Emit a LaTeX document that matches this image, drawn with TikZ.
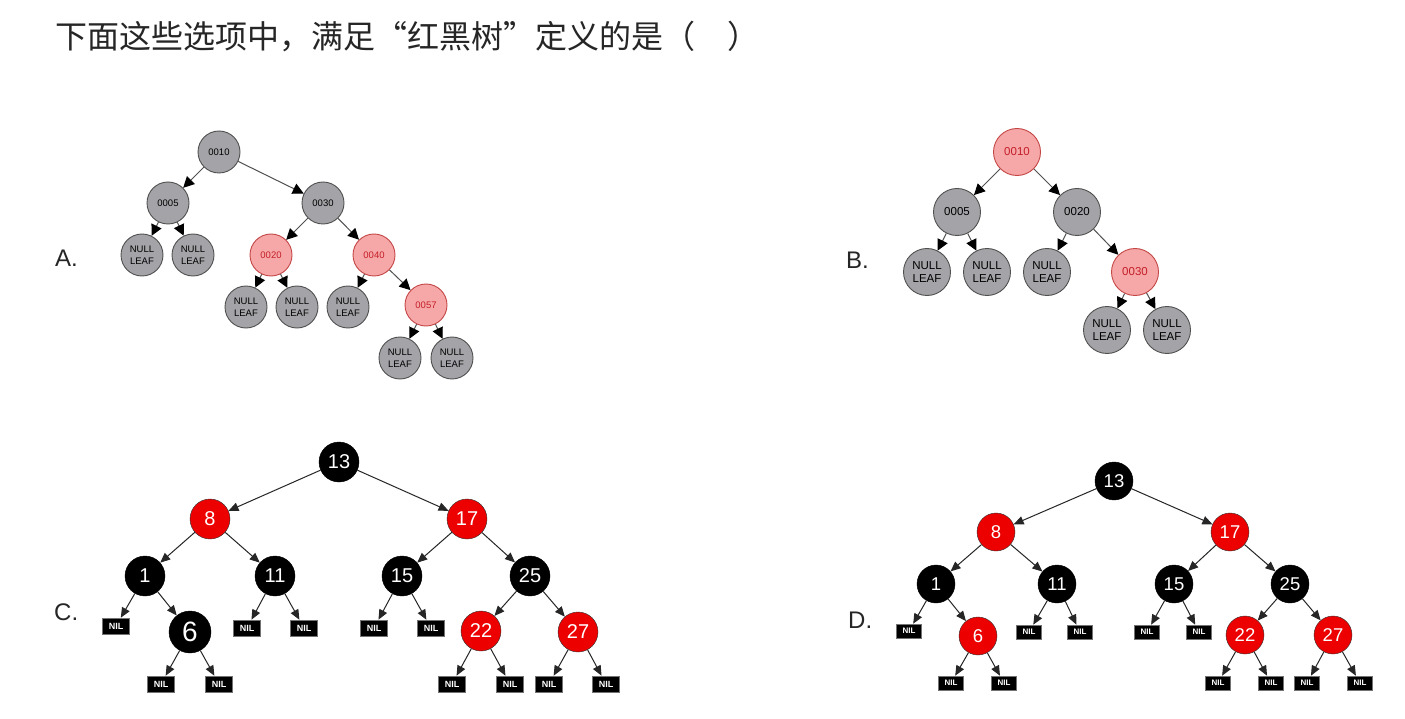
\documentclass[tikz,border=0pt]{standalone}
\usepackage{fontspec}
\setmainfont{Liberation Sans}
\newfontfamily\cjk{Noto Sans CJK SC}
\usetikzlibrary{arrows.meta}
\definecolor{ngray}{RGB}{164,164,168}
\definecolor{nborder}{RGB}{80,80,80}
\definecolor{npink}{RGB}{246,168,168}
\definecolor{pborder}{RGB}{196,70,70}
\definecolor{ptext}{RGB}{196,30,40}
\definecolor{nred}{RGB}{236,0,0}
\tikzset{
  gnode/.style={circle,inner sep=0pt,minimum size=42pt,fill=ngray,draw=nborder,line width=0.9pt,align=center,font=\fontsize{9.5}{12}\selectfont},
  pnode/.style={gnode,fill=npink,draw=pborder,text=ptext},
  gnodeB/.style={gnode,minimum size=47pt,font=\fontsize{11.5}{13.5}\selectfont},
  pnodeB/.style={gnodeB,fill=npink,draw=pborder,text=ptext},
  aedge/.style={draw=nborder,line width=1pt,-{Triangle[length=11pt,width=11pt,fill=black,color=black]}},
  bnode/.style={circle,inner sep=0pt,minimum size=40pt,fill=black,draw=black,text=white,font=\fontsize{20}{22}\selectfont},
  rnode/.style={bnode,fill=nred,draw=black!80},
  nilbox/.style={rectangle,inner sep=0pt,minimum width=27pt,minimum height=16pt,fill=black,draw=black!55,line width=0.6pt,text=white,font=\bfseries\fontsize{9}{10}\selectfont},
  bnodeD/.style={bnode,minimum size=38pt,font=\fontsize{18.5}{20}\selectfont},
  rnodeD/.style={bnodeD,fill=nred,draw=black!80},
  nilboxD/.style={nilbox,minimum width=25pt,minimum height=14pt,font=\bfseries\fontsize{8}{9}\selectfont},
  cedge/.style={draw=black!85,line width=1pt,-{Triangle[length=10pt,width=8.5pt]}},
  optlabel/.style={anchor=west,inner sep=0pt,font=\fontsize{24}{26}\selectfont,text=black!85}
}
\begin{document}
\begin{tikzpicture}[x=1pt,y=-1pt]
\useasboundingbox[fill=white] (0,0) rectangle (1405,719);
% title
\node[anchor=west,inner sep=0pt,font=\cjk\fontsize{32}{34}\selectfont,text=black!85] (title) at (55,37) {下面这些选项中，满足\makebox[1em][r]{“}红黑树\makebox[1em][l]{”}定义的是（\quad ）};
% labels
\node[optlabel] (lA) at (55,258) {A.};
\node[optlabel] (lB) at (846,260) {B.};
\node[optlabel] (lC) at (54,612) {C.};
\node[optlabel] (lD) at (848,620) {D.};
% ---------- Tree A
\node[gnode] (a1) at (219,152) {0010};
\node[gnode] (a2) at (168,203) {0005};
\node[gnode] (a3) at (323,203) {0030};
\node[gnode] (a4) at (142,255) {NULL\\LEAF};
\node[gnode] (a5) at (193,255) {NULL\\LEAF};
\node[pnode] (a6) at (271,255) {0020};
\node[pnode] (a7) at (374,255) {0040};
\node[gnode] (a8) at (246,307) {NULL\\LEAF};
\node[gnode] (a9) at (297,307) {NULL\\LEAF};
\node[gnode] (a10) at (348,307) {NULL\\LEAF};
\node[pnode] (a11) at (426,305) {0057};
\node[gnode] (a12) at (400,358) {NULL\\LEAF};
\node[gnode] (a13) at (452,358) {NULL\\LEAF};
\foreach \p/\c in {a1/a2,a1/a3,a2/a4,a2/a5,a3/a6,a3/a7,a6/a8,a6/a9,a7/a10,a7/a11,a11/a12,a11/a13}
  \draw[aedge] (\p) -- (\c);
% ---------- Tree B
\node[pnodeB] (b1) at (1017,152) {0010};
\node[gnodeB] (b2) at (957,212) {0005};
\node[gnodeB] (b3) at (1077,212) {0020};
\node[gnodeB] (b4) at (927,272) {NULL\\LEAF};
\node[gnodeB] (b5) at (987,272) {NULL\\LEAF};
\node[gnodeB] (b6) at (1047,272) {NULL\\LEAF};
\node[pnodeB] (b7) at (1135,272) {0030};
\node[gnodeB] (b8) at (1107,330) {NULL\\LEAF};
\node[gnodeB] (b9) at (1167,330) {NULL\\LEAF};
\foreach \p/\c in {b1/b2,b1/b3,b2/b4,b2/b5,b3/b6,b3/b7,b7/b8,b7/b9}
  \draw[aedge] (\p) -- (\c);
% ---------- Tree C
\node[bnode] (c13) at (339,462) {13};
\node[rnode] (c8) at (210,519) {8};
\node[rnode] (c17) at (467,519) {17};
\node[bnode] (c1) at (145,576) {1};
\node[bnode] (c11) at (275,576) {11};
\node[bnode] (c15) at (402,576) {15};
\node[bnode] (c25) at (530,576) {25};
\node[nilbox] (cn1) at (116,626) {NIL};
\node[bnode,minimum size=42pt,font=\fontsize{28}{30}\selectfont] (c6) at (190,632) {6};
\node[nilbox] (cn2) at (247,628) {NIL};
\node[nilbox] (cn3) at (304,628) {NIL};
\node[nilbox] (cn4) at (374,628) {NIL};
\node[nilbox] (cn5) at (431,628) {NIL};
\node[rnode] (c22) at (481,631) {22};
\node[rnode] (c27) at (578,632) {27};
\node[nilbox] (cn6) at (161,684) {NIL};
\node[nilbox] (cn7) at (219,684) {NIL};
\node[nilbox] (cn8) at (452,684) {NIL};
\node[nilbox] (cn9) at (510,684) {NIL};
\node[nilbox] (cn10) at (549,684) {NIL};
\node[nilbox] (cn11) at (606,684) {NIL};
\foreach \p/\c in {c13/c8,c13/c17,c8/c1,c8/c11,c17/c15,c17/c25,c1/cn1,c1/c6,c11/cn2,c11/cn3,c15/cn4,c15/cn5,c25/c22,c25/c27,c6/cn6,c6/cn7,c22/cn8,c22/cn9,c27/cn10,c27/cn11}
  \draw[cedge] (\p) -- (\c);
% ---------- Tree D
\node[bnodeD] (d13) at (1114,481) {13};
\node[rnodeD] (d8) at (996,532) {8};
\node[rnodeD] (d17) at (1230,532) {17};
\node[bnodeD] (d1) at (936,584) {1};
\node[bnodeD] (d11) at (1057,584) {11};
\node[bnodeD] (d15) at (1174,584) {15};
\node[bnodeD] (d25) at (1290,584) {25};
\node[nilboxD] (dn1) at (909,631) {NIL};
\node[rnodeD] (d6) at (978,636) {6};
\node[nilboxD] (dn2) at (1029,632) {NIL};
\node[nilboxD] (dn3) at (1080,632) {NIL};
\node[nilboxD] (dn4) at (1147,632) {NIL};
\node[nilboxD] (dn5) at (1199,632) {NIL};
\node[rnodeD] (d22) at (1245,635) {22};
\node[rnodeD] (d27) at (1333,635) {27};
\node[nilboxD] (dn6) at (951,683) {NIL};
\node[nilboxD] (dn7) at (1004,683) {NIL};
\node[nilboxD] (dn8) at (1218,683) {NIL};
\node[nilboxD] (dn9) at (1271,683) {NIL};
\node[nilboxD] (dn10) at (1307,683) {NIL};
\node[nilboxD] (dn11) at (1360,683) {NIL};
\foreach \p/\c in {d13/d8,d13/d17,d8/d1,d8/d11,d17/d15,d17/d25,d1/dn1,d1/d6,d11/dn2,d11/dn3,d15/dn4,d15/dn5,d25/d22,d25/d27,d6/dn6,d6/dn7,d22/dn8,d22/dn9,d27/dn10,d27/dn11}
  \draw[cedge] (\p) -- (\c);
\end{tikzpicture}
\end{document}
